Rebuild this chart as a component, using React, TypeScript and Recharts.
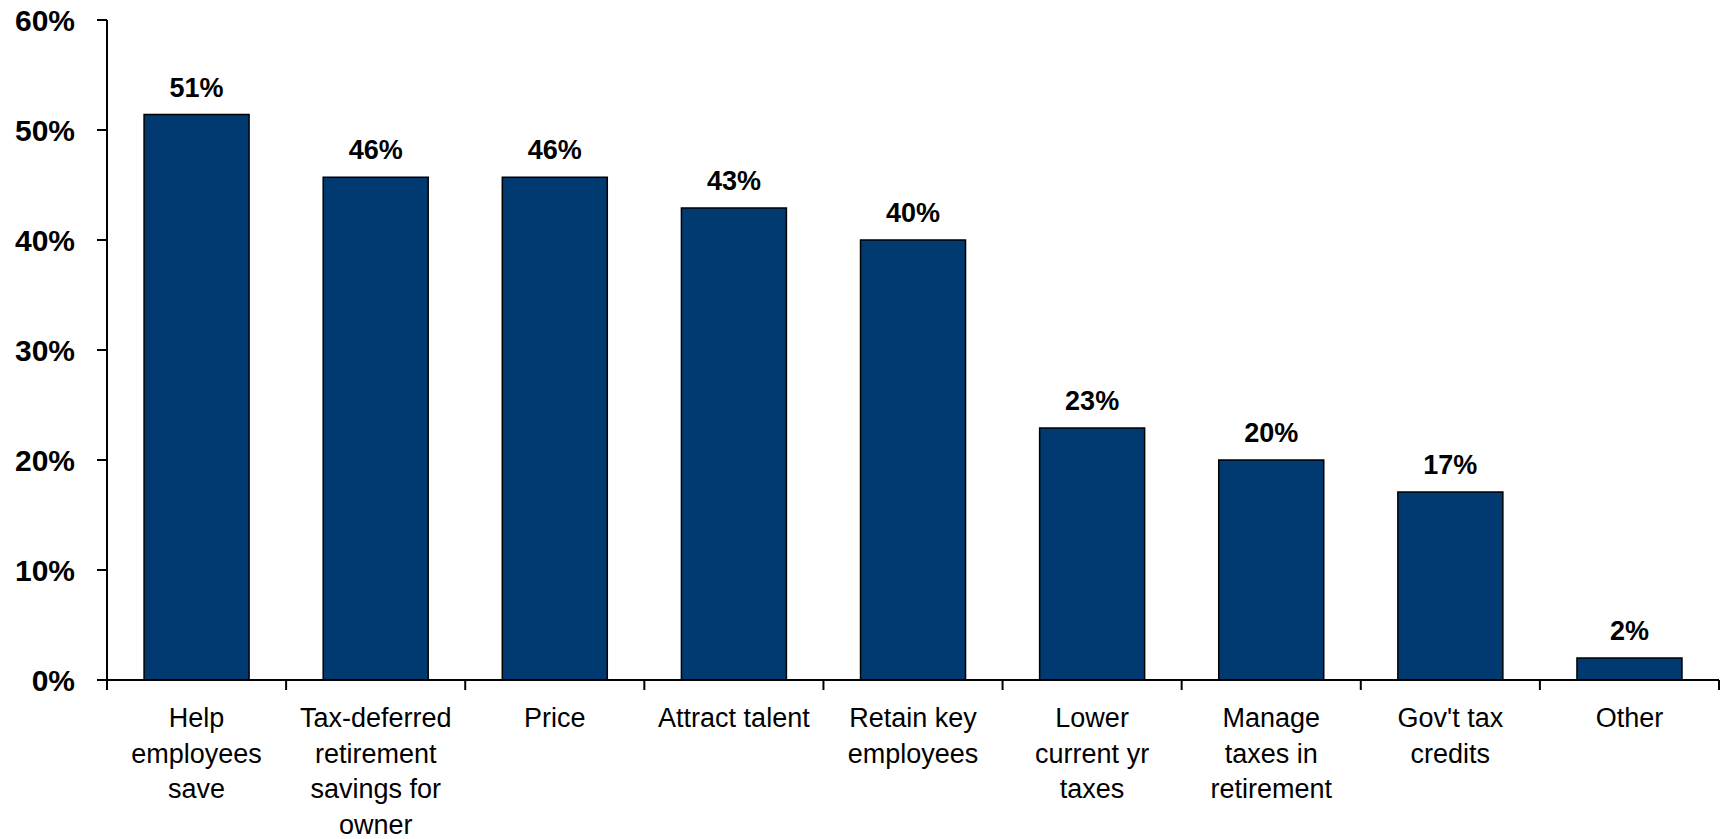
import React from 'react';
import { BarChart, Bar, XAxis, YAxis, LabelList } from 'recharts';

document.body.style.margin = '0';

const categories = [
  'Help\nemployees\nsave',
  'Tax-deferred\nretirement\nsavings for\nowner',
  'Price',
  'Attract talent',
  'Retain key\nemployees',
  'Lower\ncurrent yr\ntaxes',
  'Manage\ntaxes in\nretirement',
  "Gov't tax\ncredits",
  'Other',
];
const shares = [51.4, 45.7, 45.7, 42.9, 40.0, 22.9, 20.0, 17.1, 2.0];
const yTicks = [0, 10, 20, 30, 40, 50, 60];

const data = categories.map((name, i) => ({ name, value: shares[i] }));

const W = 1727;
const H = 839;
const AXIS_W = 107;
const RIGHT = 8;
const BAND = (W - AXIS_W - RIGHT) / categories.length;
const FONT = '"Liberation Sans", Arial, sans-serif';

function CategoryTick(props: any) {
  const { x, y, payload, index } = props;
  const lines = String(payload.value).split('\n');
  const left = x - BAND / 2;
  return (
    <g>
      <line x1={left} y1={y} x2={left} y2={y + 10} stroke="#000" strokeWidth={2} />
      {index === categories.length - 1 && (
        <line x1={left + BAND} y1={y} x2={left + BAND} y2={y + 10} stroke="#000" strokeWidth={2} />
      )}
      <text x={x} y={y + 47} textAnchor="middle" fontFamily={FONT} fontSize={27} fill="#000">
        {lines.map((l, i) => (
          <tspan key={i} x={x} dy={i === 0 ? 0 : 35.5}>{l}</tspan>
        ))}
      </text>
    </g>
  );
}

export default function App() {
  return (
    <div style={{ width: W, height: H, background: '#fff' }}>
      <BarChart
        width={W}
        height={H}
        data={data}
        margin={{ top: 20, right: RIGHT, bottom: 0, left: 0 }}
        barCategoryGap="20.7%"
      >
        <XAxis
          dataKey="name"
          interval={0}
          height={159}
          tickSize={0}
          tickMargin={0}
          axisLine={{ stroke: '#000', strokeWidth: 2 }}
          tickLine={false}
          tick={<CategoryTick />}
        />
        <YAxis
          width={AXIS_W}
          domain={[0, 60]}
          ticks={yTicks}
          interval={0}
          tickSize={10}
          tickMargin={22}
          tickFormatter={(v: number) => `${v}%`}
          axisLine={{ stroke: '#000', strokeWidth: 2 }}
          tickLine={{ stroke: '#000', strokeWidth: 2 }}
          tick={{ fill: '#000', fontSize: 30, fontWeight: 'bold', fontFamily: FONT }}
        />
        <Bar dataKey="value" fill="#003A70" stroke="#000" strokeWidth={1.5} isAnimationActive={false}>
          <LabelList
            dataKey="value"
            position="top"
            offset={18}
            formatter={(v: any) => `${Math.round(Number(v))}%`}
            style={{ fill: '#000', fontSize: 27, fontWeight: 'bold', fontFamily: FONT }}
          />
        </Bar>
      </BarChart>
    </div>
  );
}
